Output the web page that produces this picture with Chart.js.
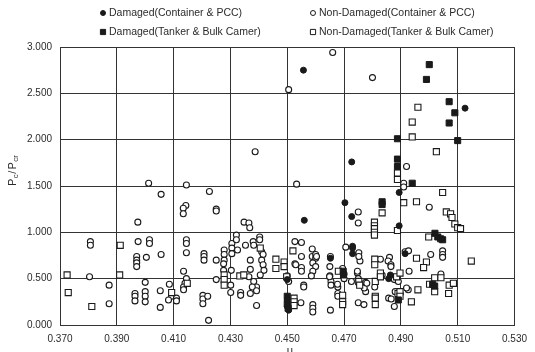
<!DOCTYPE html>
<html>
<head>
<meta charset="utf-8">
<script src="https://cdn.jsdelivr.net/npm/chart.js@4"></script>
<style>
  html, body { margin: 0; padding: 0; background: #fff; }
  #wrap { width: 535px; height: 352px; position: relative; }
</style>
</head>
<body>
<div id="wrap"><canvas id="chart"></canvas></div>
<script>
// legend labels, in the order they are drawn
const seriesNames = [
  "Damaged(Container & PCC)",
  "Non-Damaged(Container & PCC)",
  "Damaged(Tanker & Bulk Camer)",
  "Non-Damaged(Tanker & Bulk Camer)"
];

const xTicks = [0.370, 0.390, 0.410, 0.430, 0.450, 0.470, 0.490, 0.510, 0.530];
const yTicks = [0, 0.5, 1.0, 1.5, 2.0, 2.5, 3.0];

// damaged, container & PCC  [x, y]
const damagedContainer = [
  [0.4557, 2.75], [0.5126, 2.34], [0.4727, 1.76], [0.4894, 1.43], [0.4703, 1.32],
  [0.4727, 1.17], [0.4560, 1.13], [0.4894, 1.07], [0.4730, 0.85], [0.4730, 0.83],
  [0.4730, 0.77], [0.4652, 0.72], [0.4915, 0.77], [0.4857, 0.50], [0.4863, 0.54],
  [0.4500, 0.49], [0.4500, 0.27], [0.4500, 0.20], [0.4505, 0.16]
];

// non-damaged, container & PCC
const nonDamagedContainer = [
  [0.4660, 2.94], [0.4505, 2.54], [0.4800, 2.67], [0.4387, 1.87], [0.4920, 1.71],
  [0.4533, 1.52], [0.4910, 1.53], [0.4910, 1.49], [0.5000, 1.27], [0.4750, 1.22],
  [0.4750, 1.10], [0.4012, 1.53], [0.4056, 1.41], [0.4145, 1.51], [0.4143, 1.29],
  [0.4134, 1.26], [0.4134, 1.20], [0.4226, 1.44], [0.4250, 1.25], [0.4250, 1.23],
  [0.3974, 1.11], [0.4348, 1.11], [0.4365, 1.10], [0.4368, 1.05],
  [0.3807, 0.90], [0.3807, 0.86], [0.3975, 0.90], [0.4015, 0.92], [0.4015, 0.88],
  [0.3970, 0.74], [0.3970, 0.70], [0.3970, 0.67], [0.3970, 0.63], [0.4004, 0.73],
  [0.4056, 0.76], [0.4145, 0.92], [0.4145, 0.88], [0.4145, 0.78], [0.4207, 0.77],
  [0.4207, 0.74], [0.4207, 0.70],
  [0.3804, 0.52], [0.3873, 0.43], [0.3873, 0.23], [0.3964, 0.34], [0.3964, 0.31],
  [0.3964, 0.26], [0.4000, 0.46], [0.4000, 0.36], [0.4000, 0.31], [0.4000, 0.25],
  [0.4053, 0.37], [0.4053, 0.19], [0.4085, 0.44], [0.4093, 0.31], [0.4082, 0.27],
  [0.4110, 0.29], [0.4110, 0.26], [0.4135, 0.58], [0.4145, 0.50], [0.4140, 0.45],
  [0.4135, 0.41], [0.4135, 0.38], [0.4203, 0.32], [0.4203, 0.28], [0.4203, 0.23],
  [0.4220, 0.31], [0.4223, 0.05],
  [0.4305, 0.88], [0.4305, 0.83], [0.4305, 0.77], [0.4321, 0.97], [0.4321, 0.92],
  [0.4325, 0.81], [0.4353, 0.86], [0.4380, 0.90], [0.4382, 0.86], [0.4403, 0.95],
  [0.4403, 0.92], [0.4410, 0.79], [0.4415, 0.76], [0.4410, 0.70], [0.4415, 0.65],
  [0.4418, 0.59], [0.4405, 0.54], [0.4370, 0.70], [0.4370, 0.60], [0.4365, 0.52],
  [0.4278, 0.81], [0.4278, 0.76], [0.4278, 0.70], [0.4276, 0.66], [0.4276, 0.59],
  [0.4250, 0.70], [0.4303, 0.59], [0.4250, 0.49],
  [0.4382, 0.47], [0.4392, 0.41], [0.4377, 0.41], [0.4392, 0.37], [0.4370, 0.34],
  [0.4336, 0.35], [0.4336, 0.32], [0.4301, 0.43], [0.4301, 0.35], [0.4392, 0.21],
  [0.4527, 0.90], [0.4527, 0.66], [0.4550, 0.89], [0.4530, 0.65], [0.4550, 0.62],
  [0.4550, 0.58], [0.4550, 0.74], [0.4558, 0.43], [0.4558, 0.41], [0.4548, 0.24],
  [0.4588, 0.82], [0.4588, 0.74], [0.4600, 0.76], [0.4600, 0.72], [0.4590, 0.67],
  [0.4600, 0.63], [0.4590, 0.58], [0.4585, 0.53], [0.4590, 0.22], [0.4590, 0.18],
  [0.4590, 0.14], [0.4652, 0.74], [0.4650, 0.63], [0.4650, 0.53], [0.4654, 0.47],
  [0.4654, 0.43], [0.4678, 0.41], [0.4652, 0.16], [0.4678, 0.34], [0.4678, 0.31],
  [0.4695, 0.61], [0.4700, 0.55], [0.4700, 0.50], [0.4706, 0.84], [0.4726, 0.47],
  [0.4747, 0.56], [0.4750, 0.50], [0.4752, 0.45], [0.4752, 0.78], [0.4756, 0.69],
  [0.4752, 0.74], [0.4750, 0.24], [0.4770, 0.22], [0.4828, 0.71], [0.4860, 0.73],
  [0.4855, 0.69], [0.4865, 0.65], [0.4865, 0.63], [0.4915, 0.79], [0.4927, 0.80],
  [0.5005, 0.76], [0.5047, 0.80], [0.5047, 0.76], [0.5047, 0.73], [0.4747, 0.58],
  [0.4776, 0.46], [0.4776, 0.36], [0.4808, 0.41], [0.4868, 0.51], [0.4877, 0.49],
  [0.4929, 0.58], [0.4891, 0.47], [0.4880, 0.36], [0.4897, 0.34], [0.4857, 0.29],
  [0.4866, 0.28], [0.4877, 0.20], [0.4926, 0.38], [0.4920, 0.40], [0.5041, 0.55],
  [0.4649, 0.52], [0.4677, 0.44], [0.4771, 0.40], [0.4780, 0.45], [0.4834, 0.54],
  [0.4500, 0.53], [0.4505, 0.47], [0.4603, 0.74]
];

// damaged, tanker & bulk carrier
const damagedTanker = [
  [0.5000, 2.81], [0.4990, 2.65], [0.5070, 2.41], [0.5090, 2.29], [0.5070, 2.18],
  [0.4888, 2.01], [0.5100, 1.99], [0.4888, 1.79], [0.4888, 1.71], [0.4940, 1.53],
  [0.4834, 1.33], [0.4834, 1.30], [0.5020, 0.99], [0.5030, 0.95], [0.5040, 0.93],
  [0.5047, 0.92], [0.4697, 0.58], [0.4698, 0.54], [0.4891, 0.27], [0.5012, 0.44],
  [0.5019, 0.42], [0.4500, 0.31], [0.4500, 0.23], [0.4503, 0.18]
];

// non-damaged, tanker & bulk carrier
const nonDamagedTanker = [
  [0.4960, 2.35], [0.4940, 2.19], [0.4940, 2.03], [0.5025, 1.87], [0.4888, 1.64],
  [0.4888, 1.57], [0.5047, 1.43], [0.4910, 1.32], [0.4955, 1.33], [0.4834, 1.21],
  [0.5060, 1.22], [0.5075, 1.20], [0.5080, 1.16], [0.5090, 1.09], [0.5100, 1.05],
  [0.5110, 1.04], [0.4807, 1.11], [0.4807, 1.07], [0.4807, 1.04], [0.4807, 1.00],
  [0.4807, 0.97], [0.4888, 1.02], [0.4998, 0.95], [0.4520, 0.80], [0.3912, 0.86],
  [0.3725, 0.54], [0.3910, 0.54], [0.3729, 0.35], [0.3812, 0.20], [0.4093, 0.35],
  [0.4148, 0.45], [0.4278, 0.54], [0.4278, 0.49], [0.4278, 0.43], [0.4405, 0.83],
  [0.4460, 0.71], [0.4460, 0.61], [0.4489, 0.68], [0.4489, 0.63], [0.4498, 0.52],
  [0.4333, 0.53], [0.4347, 0.54], [0.4524, 0.29], [0.4524, 0.25], [0.4524, 0.21],
  [0.4695, 0.32], [0.4695, 0.25], [0.4695, 0.22], [0.4680, 0.58], [0.4808, 0.71],
  [0.4808, 0.65], [0.4955, 0.72], [0.4990, 0.68], [0.4980, 0.62], [0.5148, 0.69],
  [0.4752, 0.47], [0.4755, 0.43], [0.4810, 0.47], [0.4828, 0.56], [0.4828, 0.52],
  [0.4885, 0.52], [0.4897, 0.56], [0.4890, 0.34], [0.4937, 0.25], [0.4960, 0.38],
  [0.5001, 0.44], [0.5019, 0.36], [0.5019, 0.51], [0.5041, 0.51], [0.5070, 0.43],
  [0.5085, 0.45], [0.5068, 0.34], [0.4810, 0.31], [0.4810, 0.29], [0.4810, 0.22],
  [0.4897, 0.36], [0.4897, 0.31]
];

const toPoints = arr => arr.map(p => ({ x: p[0], y: p[1] }));

const fontFam = "'Liberation Sans', Arial, sans-serif";
const ink = "#1a1a1a";
const textInk = "#2b2b2b";

// legend in a 2x2 grid and the axis titles, drawn by hand
const extraText = {
  id: "extraText",
  afterDraw(chart) {
    const ctx = chart.ctx;
    ctx.save();
    ctx.font = "10.5px " + fontFam;
    ctx.fillStyle = textInk;
    ctx.strokeStyle = ink;
    ctx.textBaseline = "middle";
    const cells = [
      { x: 103, y: 13, style: "circle", fill: true },
      { x: 313, y: 13, style: "circle", fill: false },
      { x: 103, y: 32, style: "rect", fill: true },
      { x: 313, y: 32, style: "rect", fill: false }
    ];
    cells.forEach((c, i) => {
      ctx.lineWidth = 1;
      ctx.beginPath();
      if (c.style === "circle") {
        ctx.arc(c.x, c.y, 2.5, 0, Math.PI * 2);
      } else {
        ctx.rect(c.x - 2.6, c.y - 2.6, 5.2, 5.2);
      }
      ctx.fillStyle = c.fill ? ink : "#fff";
      ctx.fill();
      ctx.stroke();
      ctx.fillStyle = textInk;
      ctx.textAlign = "left";
      ctx.fillText(seriesNames[i], c.x + 6, c.y);
    });

    // y title "Pc / Pcr" rotated
    ctx.translate(13, 168);
    ctx.rotate(-Math.PI / 2);
    let x = -18;
    const parts = [["P", 11, 0], ["c", 8, 3], ["/", 11, 0], ["P", 11, 0], ["cr", 8, 3]];
    parts.forEach(p => {
      ctx.font = p[1] + "px " + fontFam;
      ctx.fillText(p[0], x, p[2]);
      x += ctx.measureText(p[0]).width + (p[0] === "/" ? 1 : 0.5);
    });
    ctx.restore();

    // x title, mostly below the bottom edge
    ctx.save();
    ctx.font = "11px " + fontFam;
    ctx.fillStyle = textInk;
    ctx.textAlign = "center";
    ctx.textBaseline = "top";
    ctx.fillText("\u03bc", 290, 345);
    ctx.restore();
  }
};

function openSet(label, data, style, r) {
  return {
    label: label,
    data: toPoints(data),
    pointStyle: style,
    pointRadius: r,
    pointHoverRadius: r,
    pointBackgroundColor: "#fff",
    pointBorderColor: ink,
    pointBorderWidth: 1.1
  };
}

function filledSet(label, data, style, r) {
  return {
    label: label,
    data: toPoints(data),
    pointStyle: style,
    pointRadius: r,
    pointHoverRadius: r,
    pointBackgroundColor: ink,
    pointBorderColor: ink,
    pointBorderWidth: 1
  };
}

const ctx = document.getElementById("chart").getContext("2d");
const chart = new Chart(ctx, {
  type: "scatter",
  data: {
    datasets: [
      filledSet(seriesNames[0], damagedContainer, "circle", 3),
      filledSet(seriesNames[2], damagedTanker, "rect", 4.3),
      openSet(seriesNames[3], nonDamagedTanker, "rect", 4.3),
      openSet(seriesNames[1], nonDamagedContainer, "circle", 3)
    ]
  },
  options: {
    responsive: true,
    maintainAspectRatio: false,
    animation: false,
    layout: { padding: { top: 47, right: 14, left: 0, bottom: 0 } },
    plugins: {
      legend: { display: false },
      tooltip: { enabled: false }
    },
    scales: {
      x: {
        type: "linear",
        min: xTicks[0],
        max: xTicks[xTicks.length - 1],
        afterBuildTicks: s => { s.ticks = xTicks.map(v => ({ value: v })); },
        afterFit: s => { s.height = 27; },
        grid: { color: "#333", lineWidth: 1, drawTicks: false },
        border: { color: "#333", width: 1 },
        ticks: {
          padding: 8,
          color: textInk,
          font: { family: fontFam, size: 10 },
          callback: v => v.toFixed(3)
        }
      },
      y: {
        type: "linear",
        min: yTicks[0],
        max: yTicks[yTicks.length - 1],
        afterBuildTicks: s => { s.ticks = yTicks.map(v => ({ value: v })); },
        afterFit: s => { s.width = 60; },
        grid: { color: "#333", lineWidth: 1, drawTicks: false },
        border: { color: "#333", width: 1 },
        ticks: {
          padding: 8,
          color: textInk,
          font: { family: fontFam, size: 10 },
          callback: v => v.toFixed(3)
        }
      }
    }
  },
  plugins: [extraText]
});
</script>
</body>
</html>
